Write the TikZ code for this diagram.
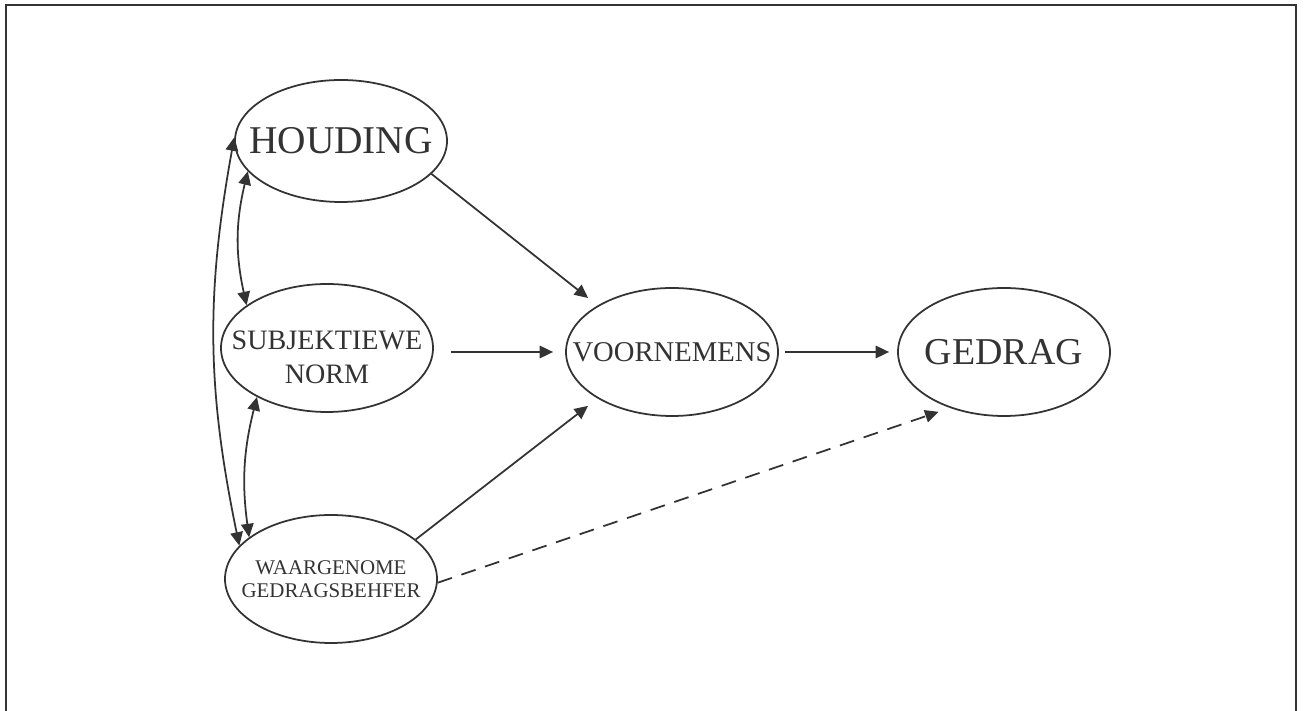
\documentclass[tikz,border=0pt]{standalone}
\usepackage{fontspec}
\setmainfont{Liberation Serif}
\usetikzlibrary{ % tikz packages
    shapes.geometric,positioning,
    arrows.meta
}
\definecolor{inkgray}{HTML}{333333}
\tikzset{concept/.style={
    ellipse,
    draw=inkgray,
    line width=1pt,
    inner sep=0pt,
    minimum width=4.24cm,
    minimum height=2.56cm
}}
\tikzset{conceptlabel/.style={
    text=inkgray,
    inner sep=0pt,
    align=center
}}
\tikzset{>={Triangle[length=2.7mm,width=2.5mm]}}

\begin{document}
\begin{tikzpicture}[on grid,auto]
        \useasboundingbox (0,0) rectangle (26.12,14.2);
        \draw[inkgray, line width=1pt] (0.12,-0.1) -- (0.12,14.1) -- (25.92,14.1) -- (25.92,-0.1);

        \node[concept, minimum height=2.44cm,
            label={[conceptlabel, font=\fontsize{22.4}{26}\selectfont]center:HOUDING}] (houding) at (6.82,11.38) {};
        \node[concept,
            label={[conceptlabel, yshift=-0.18cm, font=\fontsize{16}{19.3}\selectfont]center:SUBJEKTIEWE\\NORM}] (norm) [below left=4.14cm and 0.28cm of houding] {};
        \node[concept,
            label={[conceptlabel, font=\fontsize{11.9}{13}\selectfont]center:WAARGENOME\\GEDRAGSBEHFER}] (beheer) [below left=8.76cm and 0.2cm of houding] {};

        \node[concept,
            label={[conceptlabel, font=\fontsize{16.3}{19}\selectfont]center:VOORNEMENS}] (voornemens) at (13.44,7.16) {};
        \node[concept,
            label={[conceptlabel, font=\fontsize{21.6}{24}\selectfont]center:GEDRAG}] (gedrag) [right=6.64cm of voornemens] {};

        \path[->, color=inkgray, line width=1pt]
            (houding.-20)
                edge[shorten >=0.24cm] (voornemens.148)
            (norm.east |- voornemens.west)
                edge[shorten <=0.34cm, shorten >=0.24cm] (voornemens.west)
            (beheer.25)
                edge[shorten >=0.24cm] (voornemens.212)
            (voornemens.east)
                edge[shorten <=0.12cm, shorten >=0.16cm] (gedrag.west)
            (beheer.-2)
                edge[dash pattern=on 0.3cm off 0.2cm, shorten >=0.24cm] (gedrag.226);

        \path[<->, color=inkgray, line width=1pt]
            (houding.178)
                edge[bend right=11] (beheer.160)
            (houding.198)
                edge[bend right=13] (norm.152)
            (norm.215)
                edge[bend right=11] (beheer.153);
    \end{tikzpicture}
\end{document}
